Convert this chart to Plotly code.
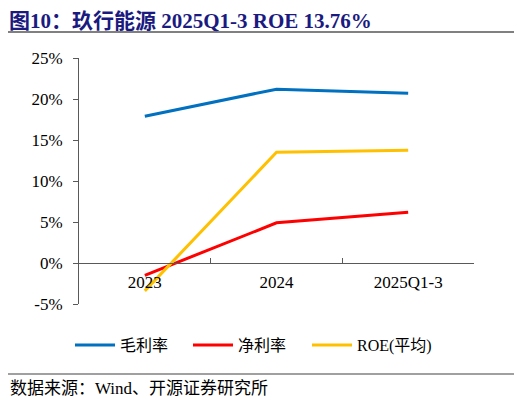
import plotly.graph_objects as go

categories = ["2023", "2024", "2025Q1-3"]
gross_margin = [17.9, 21.2, 20.7]
net_margin = [-1.5, 4.9, 6.2]
roe_avg = [-3.4, 13.5, 13.76]
y_ticks = [-5, 0, 5, 10, 15, 20, 25]
y_tick_labels = ["-5%", "0%", "5%", "10%", "15%", "20%", "25%"]

serif = "Liberation Serif, Noto Sans CJK SC"
y_min, y_max = -5, 25

# page has an 8px body margin, so the figure is 8px smaller and margins shifted
W, H = 514, 397
L, T, R, B = 71, 50, 48, 101
pw, ph = W - L - R, H - T - B


def fx(page_x):
    return (page_x - 8 - L) / pw


def fy(page_y):
    return (H - B - (page_y - 8)) / ph


fig = go.Figure()
fig.add_scatter(x=categories, y=gross_margin, name="毛利率", mode="lines",
                line=dict(color="#0070C0", width=3), legend="legend")
fig.add_scatter(x=categories, y=net_margin, name="净利率", mode="lines",
                line=dict(color="#FF0000", width=3), legend="legend2")
fig.add_scatter(x=categories, y=roe_avg, name="ROE(平均)", mode="lines",
                line=dict(color="#FFC000", width=3), legend="legend3")

legend_style = dict(orientation="h", xanchor="left", y=fy(328), yanchor="top",
                    font=dict(size=16), itemwidth=40, bgcolor="rgba(0,0,0,0)")

fig.update_layout(
    width=W, height=H,
    margin=dict(l=L, r=R, t=T, b=B, autoexpand=False),
    paper_bgcolor="white", plot_bgcolor="white",
    font=dict(family=serif, size=17, color="black"),
    showlegend=True,
    legend=dict(x=fx(70), **legend_style),
    legend2=dict(x=fx(188), **legend_style),
    legend3=dict(x=fx(307), **legend_style),
    xaxis=dict(type="category", range=[-0.5, 2.5], showgrid=False, automargin=False,
               showline=True, linecolor="#595959", linewidth=1,
               ticks="inside", tickson="boundaries", ticklen=5, tickcolor="#595959",
               anchor="free", position=(0 - y_min) / (y_max - y_min),
               ticklabelstandoff=4, tickfont=dict(size=17)),
    yaxis=dict(range=[y_min, y_max], tickvals=y_ticks, ticktext=y_tick_labels,
               showgrid=False, automargin=False,
               zeroline=False, showline=True, linecolor="#595959", linewidth=1,
               ticks="outside", ticklen=5, tickcolor="#595959",
               ticklabelstandoff=7, tickfont=dict(size=17)),
)

# title, rules and source note
fig.add_annotation(text="<b>图10：玖行能源 2025Q1-3 ROE 13.76%</b>", xref="paper", yref="paper",
                   x=fx(8), y=fy(21), xanchor="left", yanchor="middle", borderpad=0,
                   showarrow=False, font=dict(family=serif, size=21, color="#1A1A80"))
fig.add_shape(type="line", xref="paper", yref="paper",
              x0=fx(5), x1=fx(516), y0=fy(32), y1=fy(32),
              line=dict(color="#808080", width=2))
fig.add_shape(type="line", xref="paper", yref="paper",
              x0=fx(0), x1=fx(516), y0=fy(374), y1=fy(374),
              line=dict(color="#808080", width=1.5))
fig.add_annotation(text="数据来源：Wind、开源证券研究所", xref="paper", yref="paper",
                   x=fx(8), y=fy(388), xanchor="left", yanchor="middle",
                   showarrow=False, font=dict(family=serif, size=17, color="black"))

fig.write_html("out.html")
